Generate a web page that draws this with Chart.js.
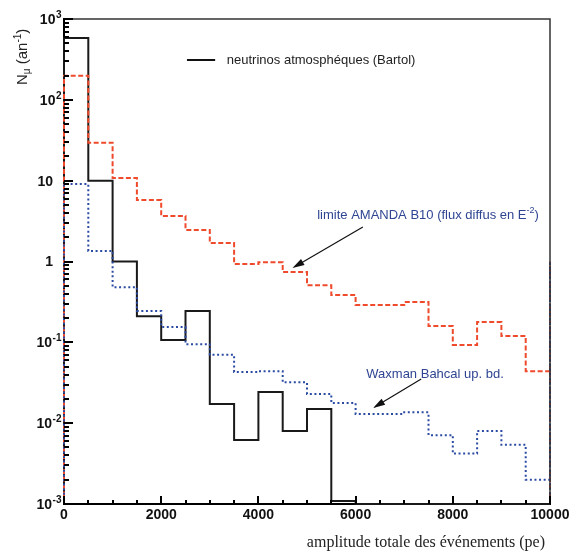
<!DOCTYPE html>
<html><head><meta charset="utf-8">
<script src="https://cdn.jsdelivr.net/npm/chart.js@4/dist/chart.umd.min.js"></script>
<style>html,body{margin:0;padding:0;background:#fff;}</style>
</head><body>
<canvas id="c" width="570" height="553"></canvas>
<script>
// ---- data ----
const binLeftEdges = [0,500,1000,1500,2000,2500,3000,3500,4000,4500,5000,5500,6000,6500,7000,7500,8000,8500,9000,9500];
const xMax = 10000;
const atmBartol = [582, 10, 1.0, 0.21, 0.107, 0.244, 0.0173, 0.0062, 0.0243, 0.0080, 0.015, 0.00109, 0,0,0,0,0,0,0,0];
const amandaB10 = [199, 29.5, 10.8, 5.77, 3.66, 2.45, 1.69, 0.93, 0.98, 0.74, 0.51, 0.385, 0.29, 0.29, 0.315, 0.159, 0.093, 0.178, 0.12, 0.044];
const amandaOverflow = 1.0;
const waxmanBahcall = [9.1, 1.35, 0.48, 0.244, 0.155, 0.095, 0.070, 0.043, 0.044, 0.032, 0.023, 0.0177, 0.013, 0.013, 0.0136, 0.0071, 0.0042, 0.0080, 0.0054, 0.0020];
const waxmanOverflow = 1.0;
const yMin = 1e-3, yMax = 1e3;
const yTickLabels = [
  {value:1000, base:'10', exp:'3'}, {value:100, base:'10', exp:'2'}, {value:10, base:'10', exp:''},
  {value:1, base:'1', exp:''}, {value:0.1, base:'10', exp:'-1'}, {value:0.01, base:'10', exp:'-2'},
  {value:0.001, base:'10', exp:'-3'}
];
const xTickLabels = [0, 2000, 4000, 6000, 8000, 10000];
const legendText = 'neutrinos atmosphéques (Bartol)';
const legendPos = {x1:2530, x2:3110, textX:3350, y:311};
const annotations = [
  {text:'limite AMANDA B10 (flux diffus en E', sup:'-2', tail:')', textX:5210, textY:3.76, from:{x:6150,y:2.67}, to:{x:4700,y:0.83}},
  {text:'Waxman Bahcal up. bd.', sup:'', tail:'', textX:6220, textY:0.0405, from:{x:7350,y:0.0352}, to:{x:6360,y:0.0154}}
];
const xTitle = 'amplitude totale des événements (pe)';

function hist(vals, overflow) {
  const pts = [{x:0, y:yMin}];
  vals.forEach((v,i) => pts.push({x:binLeftEdges[i], y: v > 0 ? v : yMin}));
  if (overflow) pts.push({x:xMax, y:overflow});
  pts.push({x:xMax, y:yMin});
  return pts;
}

const SANS = '"Liberation Sans", Arial, Helvetica, sans-serif';
const BLUE_TXT = '#2f4592';

const decor = {
  id:'decor',
  afterDraw(chart) {
    const {ctx, chartArea:a, scales:{x, y}} = chart;
    ctx.save();
    // frame top & right
    ctx.strokeStyle = '#333'; ctx.lineWidth = 1.5;
    ctx.beginPath(); ctx.moveTo(a.left, a.top); ctx.lineTo(a.right, a.top); ctx.lineTo(a.right, a.bottom); ctx.stroke();
    // y ticks (inside)
    ctx.strokeStyle = '#000'; ctx.lineWidth = 2;
    for (let d = -3; d <= 3; d++) {
      for (let m = 1; m <= 9; m++) {
        const v = m * Math.pow(10, d);
        if (v > yMax * 1.0001) break;
        const py = Math.round(y.getPixelForValue(v));
        const len = m === 1 ? 9 : 5;
        ctx.beginPath(); ctx.moveTo(a.left, py); ctx.lineTo(a.left + len, py); ctx.stroke();
      }
    }
    // x ticks (inside)
    for (let v = 0; v <= xMax; v += 500) {
      const px = Math.round(x.getPixelForValue(v));
      const len = v % 2000 === 0 ? 8 : 4;
      ctx.beginPath(); ctx.moveTo(px, a.bottom); ctx.lineTo(px, a.bottom - len); ctx.stroke();
    }
    // y labels
    ctx.fillStyle = '#111'; ctx.textBaseline = 'middle';
    yTickLabels.forEach(t => {
      const py = y.getPixelForValue(t.value);
      ctx.font = 'bold 10px ' + SANS;
      const ew = t.exp ? ctx.measureText(t.exp).width : 0;
      ctx.font = 'bold 14px ' + SANS;
      const right = t.exp ? 61 - ew : 53;
      ctx.textAlign = 'right';
      ctx.fillText(t.base, right, py + 1);
      if (t.exp) {
        ctx.font = 'bold 10px ' + SANS; ctx.textAlign = 'left';
        ctx.fillText(t.exp, right + 0.5, py - 4);
      }
    });
    // x labels
    ctx.font = 'bold 14px ' + SANS; ctx.textAlign = 'center';
    xTickLabels.forEach(v => ctx.fillText(String(v), x.getPixelForValue(v), a.bottom + 11));
    // x title
    ctx.font = '16px "Liberation Serif", "Times New Roman", serif'; ctx.fillStyle = '#222';
    ctx.textAlign = 'right';
    ctx.fillText(xTitle, 545, 543);
    // y title
    ctx.save();
    ctx.translate(27, 85); ctx.rotate(-Math.PI/2);
    ctx.textAlign = 'left'; ctx.textBaseline = 'alphabetic'; ctx.fillStyle = '#222';
    let cx = 0;
    const seg = (s, size, dy) => { ctx.font = size + 'px ' + SANS; ctx.fillText(s, cx, dy); cx += ctx.measureText(s).width; };
    seg('N', 15, 0); seg('μ', 10, 3); seg(' (an', 15, 0); seg('-1', 10, -6); seg(')', 15, 0);
    ctx.restore();
    // legend
    const ly = y.getPixelForValue(legendPos.y);
    ctx.strokeStyle = '#111'; ctx.lineWidth = 2;
    ctx.beginPath(); ctx.moveTo(x.getPixelForValue(legendPos.x1), ly); ctx.lineTo(x.getPixelForValue(legendPos.x2), ly); ctx.stroke();
    ctx.font = '13px ' + SANS; ctx.textAlign = 'left'; ctx.textBaseline = 'middle'; ctx.fillStyle = '#222';
    ctx.fillText(legendText, x.getPixelForValue(legendPos.textX), ly);
    // annotations
    annotations.forEach(an => {
      const tx = x.getPixelForValue(an.textX), ty = y.getPixelForValue(an.textY);
      ctx.fillStyle = BLUE_TXT; ctx.textAlign = 'left'; ctx.textBaseline = 'middle';
      ctx.font = '13px ' + SANS;
      ctx.fillText(an.text, tx, ty);
      let w = ctx.measureText(an.text).width;
      if (an.sup) {
        ctx.font = '9px ' + SANS; ctx.fillText(an.sup, tx + w, ty - 4);
        w += ctx.measureText(an.sup).width;
        ctx.font = '13px ' + SANS; ctx.fillText(an.tail, tx + w, ty);
      }
      const x0 = x.getPixelForValue(an.from.x), y0 = y.getPixelForValue(an.from.y);
      const x1 = x.getPixelForValue(an.to.x), y1 = y.getPixelForValue(an.to.y);
      const ang = Math.atan2(y1 - y0, x1 - x0);
      const hl = 12, hw = 3.5;
      ctx.strokeStyle = '#111'; ctx.lineWidth = 1.2;
      ctx.beginPath(); ctx.moveTo(x0, y0); ctx.lineTo(x1 - Math.cos(ang)*hl*0.8, y1 - Math.sin(ang)*hl*0.8); ctx.stroke();
      ctx.fillStyle = '#111';
      ctx.beginPath();
      ctx.moveTo(x1, y1);
      ctx.lineTo(x1 - Math.cos(ang)*hl - Math.sin(ang)*hw, y1 - Math.sin(ang)*hl + Math.cos(ang)*hw);
      ctx.lineTo(x1 - Math.cos(ang)*hl + Math.sin(ang)*hw, y1 - Math.sin(ang)*hl - Math.cos(ang)*hw);
      ctx.closePath(); ctx.fill();
    });
    ctx.restore();
  }
};

new Chart(document.getElementById('c'), {
  type: 'line',
  data: {
    datasets: [
      {label:'Waxman Bahcal up. bd.', data: hist(waxmanBahcall, waxmanOverflow), borderColor:'#2b4ba3', borderWidth:2, borderDash:[2,2.6], stepped:true, pointRadius:0, fill:false, clip:false},
      {label:'limite AMANDA B10', data: hist(amandaB10, amandaOverflow), borderColor:'#ee4a2b', borderWidth:2, borderDash:[5,2.5], stepped:true, pointRadius:0, fill:false, clip:false},
      {label:'neutrinos atmosphériques (Bartol)', data: hist(atmBartol, 0), borderColor:'#1a1a1a', borderWidth:2, stepped:true, pointRadius:0, fill:false, clip:false}
    ]
  },
  options: {
    responsive:false, animation:false, devicePixelRatio:1,
    layout:{padding:{top:19, right:20, left:0, bottom:0}},
    plugins:{legend:{display:false}, tooltip:{enabled:false}},
    scales:{
      x:{type:'linear', min:0, max:xMax, ticks:{display:false}, grid:{display:false}, border:{display:true, color:'#000', width:2}, afterFit(s){ s.height = 49; }},
      y:{type:'logarithmic', min:yMin, max:yMax, ticks:{display:false}, grid:{display:false}, border:{display:true, color:'#000', width:2}, afterFit(s){ s.width = 64; }}
    }
  },
  plugins:[decor]
});
</script>
</body></html>
